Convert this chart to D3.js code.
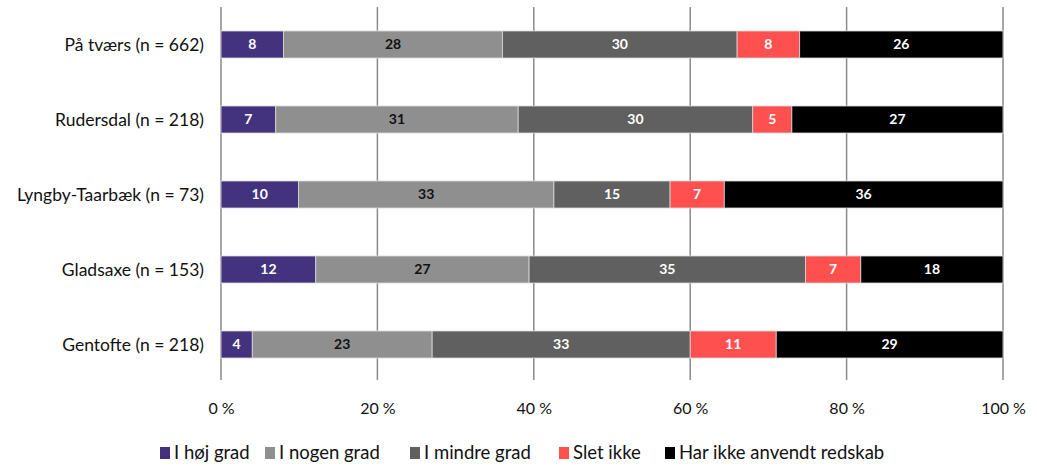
<!DOCTYPE html>
<html>
<head>
<meta charset="utf-8">
<script src="https://cdn.jsdelivr.net/npm/d3@7"></script>
<style>
  html, body { margin: 0; padding: 0; background: #fff; }
  svg { display: block; font-family: "Source Sans Pro", Lato, "Open Sans", sans-serif; }
</style>
</head>
<body>
<svg id="chart" width="1037" height="466"></svg>
<script>
// Municipalities, top to bottom
const categories = [
  "På tværs (n = 662)",
  "Rudersdal (n = 218)",
  "Lyngby-Taarbæk (n = 73)",
  "Gladsaxe (n = 153)",
  "Gentofte (n = 218)"
];

// Answer categories (stack order, left to right)
const seriesNames = ["I høj grad", "I nogen grad", "I mindre grad", "Slet ikke", "Har ikke anvendt redskab"];

// Percentages per answer category, one value per municipality
const hoejGrad     = [8, 7, 10, 12, 4];
const nogenGrad    = [28, 31, 33, 27, 23];
const mindreGrad   = [30, 30, 15, 35, 33];
const sletIkke     = [8, 5, 7, 7, 11];
const ikkeAnvendt  = [26, 27, 36, 18, 29];

const tickValues = [0, 20, 40, 60, 80, 100];

const colors = ["#43337f", "#8f8f8f", "#606060", "#ff5050", "#000000"];
const labelColors = ["#ffffff", "#111111", "#ffffff", "#ffffff", "#ffffff"];

const seriesValues = [hoejGrad, nogenGrad, mindreGrad, sletIkke, ikkeAnvendt];

// Build rows; each row is shown as a 100 % stacked bar
const rows = categories.map((c, i) => {
  const r = { category: c };
  seriesNames.forEach((s, j) => { r[s] = seriesValues[j][i]; });
  return r;
});

const stacked = d3.stack()
  .keys(seriesNames)
  .offset(d3.stackOffsetExpand)(rows);

const svg = d3.select("#chart");
const margin = { left: 221, right: 34, top: 7, bottom: 84 };
const width = 1037, height = 466;

const x = d3.scaleLinear().domain([0, 1]).range([margin.left, width - margin.right]);
const y = d3.scaleBand().domain(categories).range([margin.top, height - margin.bottom]).paddingInner(0.64).paddingOuter(0.32);

// Vertical gridlines
svg.append("g")
  .selectAll("line")
  .data(tickValues)
  .join("line")
  .attr("x1", d => x(d / 100)).attr("x2", d => x(d / 100))
  .attr("y1", margin.top).attr("y2", height - margin.bottom - 2)
  .attr("stroke", "#8a8a8a")
  .attr("stroke-width", 1.5);

// Bars
const layers = svg.append("g")
  .selectAll("g")
  .data(stacked)
  .join("g")
  .attr("fill", (d, i) => colors[i]);

layers.selectAll("rect")
  .data(d => d.map(p => ({ p, cat: p.data.category })))
  .join("rect")
  .attr("x", d => x(d.p[0]))
  .attr("width", d => x(d.p[1]) - x(d.p[0]))
  .attr("y", d => y(d.cat))
  .attr("height", y.bandwidth())
  .attr("stroke", "#d9d9d9")
  .attr("stroke-width", 0.8);

// Value labels
stacked.forEach((layer, i) => {
  svg.append("g")
    .selectAll("text")
    .data(layer)
    .join("text")
    .attr("x", d => (x(d[0]) + x(d[1])) / 2)
    .attr("y", d => y(d.data.category) + y.bandwidth() / 2)
    .attr("dy", "0.35em")
    .attr("text-anchor", "middle")
    .attr("font-size", 14)
    .attr("font-weight", "bold")
    .attr("fill", labelColors[i])
    .text(d => d.data[layer.key]);
});

// Category labels
svg.append("g")
  .selectAll("text")
  .data(categories)
  .join("text")
  .attr("x", margin.left - 17)
  .attr("y", d => y(d) + y.bandwidth() / 2)
  .attr("dy", "0.35em")
  .attr("text-anchor", "end")
  .attr("font-size", 17.5)
  .attr("fill", "#111")
  .text(d => d);

// X axis with tick labels
const xAxis = d3.axisBottom(x)
  .tickValues(tickValues.map(v => v / 100))
  .tickSize(0)
  .tickPadding(0)
  .tickFormat(d => `${Math.round(d * 100)} %`);

const gx = svg.append("g")
  .attr("transform", `translate(0, ${height - 58})`)
  .call(xAxis);
gx.select(".domain").remove();
gx.selectAll("text")
  .attr("font-size", 16)
  .attr("font-family", "\"Source Sans Pro\", Lato, \"Open Sans\", sans-serif")
  .attr("fill", "#111")
  .attr("dy", "0.35em");

// Legend
const legendX = [160, 265, 410, 559, 665];
const legend = svg.append("g").attr("transform", "translate(0, 453)");
seriesNames.forEach((s, i) => {
  legend.append("rect")
    .attr("x", legendX[i]).attr("y", -6)
    .attr("width", 10).attr("height", 12)
    .attr("fill", colors[i]);
  legend.append("text")
    .attr("x", legendX[i] + 14).attr("y", 0)
    .attr("dy", "0.35em")
    .attr("font-size", 18.5)
    .attr("fill", "#111")
    .text(s);
});
</script>
</body>
</html>
